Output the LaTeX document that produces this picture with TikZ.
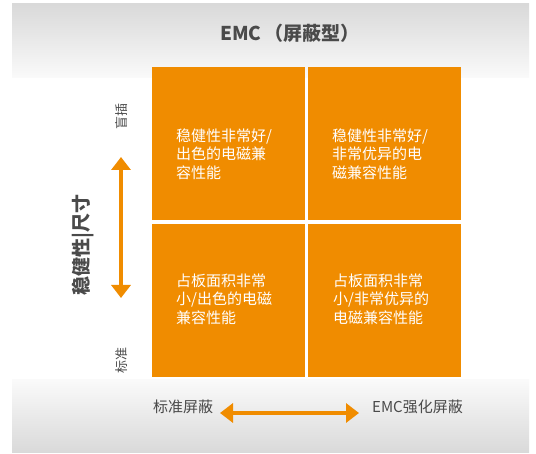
\documentclass[tikz,border=0pt]{standalone}
\usepackage{fontspec}
\setmainfont{Noto Sans CJK SC}
\usetikzlibrary{arrows.meta}
\definecolor{emcorange}{HTML}{F08C00}
\definecolor{txtgray}{HTML}{4A4A4A}
\definecolor{bandtop}{HTML}{D9D9D9}
\definecolor{bandlight}{HTML}{FAFAFA}
\begin{document}
\begin{tikzpicture}[x=1pt,y=-1pt,
  quad/.style={fill=emcorange, draw=none, minimum width=153pt, minimum height=153pt, inner sep=0pt, anchor=north west},
  quadtext/.style={text=white, anchor=west, align=left, inner sep=0pt, font=\fontsize{15pt}{18.5pt}\selectfont},
  axlabel/.style={text=txtgray, inner sep=0pt, font=\fontsize{15pt}{18pt}\selectfont},
  endlabel/.style={text=txtgray, inner sep=0pt, rotate=90, font=\fontsize{13pt}{15pt}\selectfont},
  bigarrow/.style={draw=emcorange, line width=4pt, {Triangle[length=13pt,width=19pt]}-{Triangle[length=13pt,width=19pt]}}
]
\useasboundingbox (0,0) rectangle (536,454);
\fill[white] (0,0) rectangle (536,454);
% background bands
\shade[top color=bandtop, bottom color=bandlight] (12,4) rectangle (529,78);
\shade[top color=bandlight, bottom color=bandtop] (12,380) rectangle (529,453);
% title
\node[text=txtgray, font=\fontsize{19pt}{21pt}\selectfont\bfseries] (title) at (290,33) {EMC\,（屏蔽型）};
% quadrants
\node[quad] (tl) at (152,67) {};
\node[quad] (tr) at (308,67) {};
\node[quad] (bl) at (152,224) {};
\node[quad] (br) at (308,224) {};
\node[quadtext] (tltext) at (176,154) {稳健性非常好/\\出色的电磁兼\\容性能};
\node[quadtext] (trtext) at (332,154) {稳健性非常好/\\非常优异的电\\磁兼容性能};
\node[quadtext] (bltext) at (176,299) {占板面积非常\\小/出色的电磁\\兼容性能};
\node[quadtext] (brtext) at (333,299) {占板面积非常\\小/非常优异的\\电磁兼容性能};
% vertical axis
\node[text=txtgray, inner sep=0pt, rotate=90, font=\fontsize{19pt}{20pt}\selectfont\bfseries] (ylabel) at (83,245) {稳健性|尺寸};
\node[endlabel] (yhigh) at (122,117) {盲插};
\node[endlabel] (ylow) at (122,361) {标准};
\coordinate (vtop) at (121,157);
\coordinate (vbot) at (121,298);
\draw[bigarrow] (vtop) -- (vbot);
% horizontal axis
\node[axlabel, anchor=west] (xlow) at (153,407) {标准屏蔽};
\node[axlabel, anchor=west] (xhigh) at (372,407) {EMC强化屏蔽};
\coordinate (hleft) at (220,413);
\coordinate (hright) at (359,413);
\draw[bigarrow] (hleft) -- (hright);
\end{tikzpicture}
\end{document}
